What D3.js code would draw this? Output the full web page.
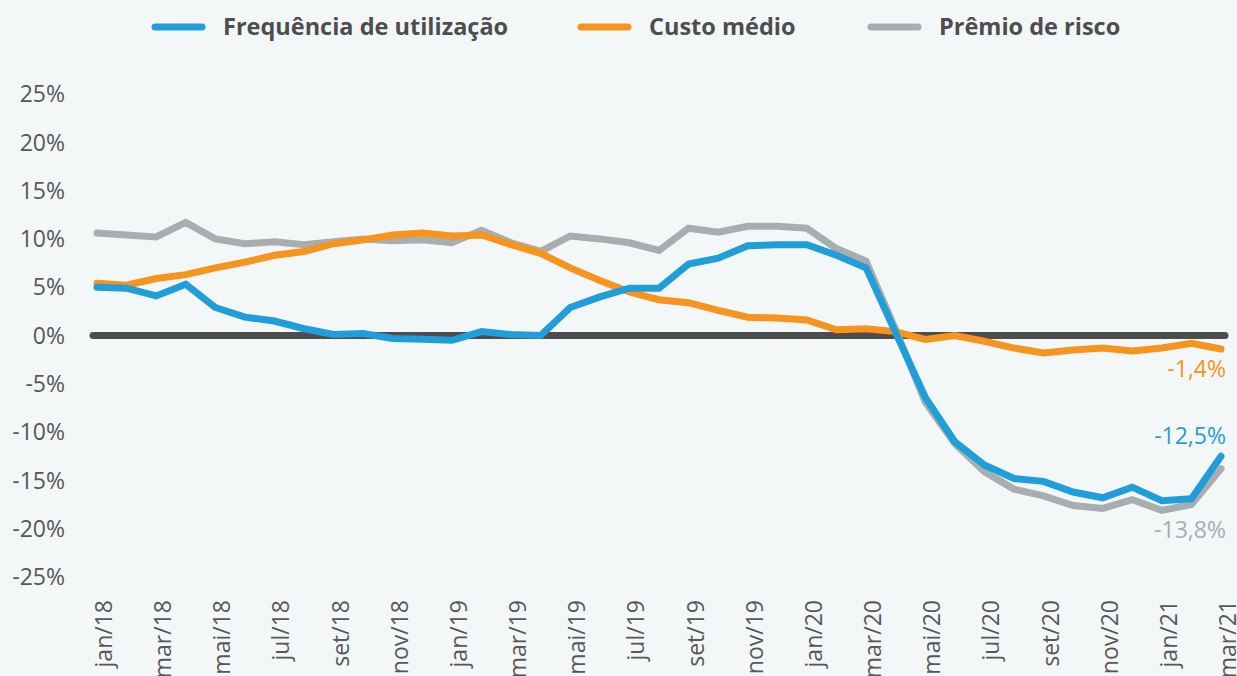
<!DOCTYPE html>
<html>
<head>
<meta charset="utf-8">
<script src="https://cdn.jsdelivr.net/npm/d3@7"></script>
<style>
  body { margin: 0; background: #f3f7f8; }
  svg { display: block; font-family: "Open Sans", sans-serif; }
</style>
</head>
<body>
<svg id="chart"></svg>
<script>
// months jan/18 .. mar/21
const monthNames = ['jan', 'fev', 'mar', 'abr', 'mai', 'jun', 'jul', 'ago', 'set', 'out', 'nov', 'dez'];
const months = d3.range(39).map(i => `${monthNames[i % 12]}/${18 + Math.floor(i / 12)}`);

const frequencia = [5.0, 4.9, 4.1, 5.3, 2.9, 1.9, 1.5, 0.7, 0.1, 0.2, -0.3, -0.4, -0.5, 0.4, 0.1, 0.0,
  2.9, 4.0, 4.9, 4.9, 7.4, 8.0, 9.3, 9.4, 9.4, 8.3, 7.0, 0.3, -6.4, -11.0, -13.4, -14.8, -15.1,
  -16.2, -16.8, -15.7, -17.1, -16.9, -12.5];
const custo = [5.4, 5.2, 5.9, 6.3, 7.0, 7.6, 8.3, 8.7, 9.5, 9.9, 10.4, 10.6, 10.3, 10.4, 9.4, 8.5,
  7.0, 5.7, 4.5, 3.7, 3.4, 2.6, 1.9, 1.8, 1.6, 0.6, 0.7, 0.4, -0.4, 0.0, -0.6, -1.3, -1.8,
  -1.5, -1.3, -1.6, -1.3, -0.8, -1.4];
const premio = [10.6, 10.4, 10.2, 11.7, 10.0, 9.5, 9.7, 9.4, 9.7, 10.0, 9.8, 9.9, 9.6, 10.9, 9.6, 8.7,
  10.3, 10.0, 9.6, 8.8, 11.1, 10.7, 11.3, 11.3, 11.1, 9.0, 7.7, 0.6, -6.9, -11.2, -14.1, -15.9, -16.6,
  -17.6, -17.9, -17.0, -18.1, -17.5, -13.8];

const yTicks = [25, 20, 15, 10, 5, 0, -5, -10, -15, -20, -25];

const series = [
  { name: 'Prêmio de risco', values: premio, color: '#a8adb0', labelDy: 69 },
  { name: 'Custo médio', values: custo, color: '#f7941d', labelDy: 28 },
  { name: 'Frequência de utilização', values: frequencia, color: '#1f9ed9', labelDy: -12 }
];
const legendOrder = [series[2], series[1], series[0]];

const width = 1237, height = 676;
const svg = d3.select('#chart').attr('width', width).attr('height', height);

const x = d3.scaleLinear().domain([0, months.length - 1]).range([97, 1221]);
const y = d3.scaleLinear().domain([-25, 25]).range([577, 94]);

const pct = v => `${String(v).replace('.', ',')}%`; // hyphen minus, comma decimal

// y labels
svg.append('g').selectAll('text')
  .data(yTicks)
  .enter().append('text')
    .attr('x', 65)
    .attr('y', d => y(d))
    .attr('dy', '0.36em')
    .attr('text-anchor', 'end')
    .attr('fill', '#575757')
    .style('font-size', '23px')
    .text(d => pct(d));

// x labels, every 2 months, rotated
svg.append('g').selectAll('text')
  .data(months.filter((m, i) => i % 2 === 0))
  .enter().append('text')
    .attr('transform', (d, i) => `translate(${x(i * 2) + 15},600) rotate(-90)`)
    .attr('text-anchor', 'end')
    .attr('fill', '#575757')
    .style('font-size', '23px')
    .text(d => d);

// zero line
svg.append('line')
  .attr('x1', x(0) - 4).attr('x2', x(months.length - 1) + 4)
  .attr('y1', y(0)).attr('y2', y(0))
  .attr('stroke', '#4d4d4d')
  .attr('stroke-width', 7)
  .attr('stroke-linecap', 'round');

const line = d3.line()
  .x((d, i) => x(i))
  .y(d => y(d));

svg.append('g').selectAll('path')
  .data(series)
  .enter().append('path')
    .attr('d', d => line(d.values))
    .attr('fill', 'none')
    .attr('stroke', d => d.color)
    .attr('stroke-width', 7)
    .attr('stroke-linejoin', 'miter')
    .attr('stroke-linecap', 'round');

// end labels
svg.append('g').selectAll('text')
  .data(series)
  .enter().append('text')
    .attr('x', 1226)
    .attr('y', d => y(d.values[d.values.length - 1]) + d.labelDy)
    .attr('text-anchor', 'end')
    .attr('fill', d => d.color)
    .style('font-size', '23px')
    .text(d => pct(d.values[d.values.length - 1]));

// legend
const legendX = [152, 578, 868];
const legend = svg.append('g').selectAll('g')
  .data(legendOrder)
  .enter().append('g')
    .attr('transform', (d, i) => `translate(${legendX[i]},27)`);

legend.append('line')
  .attr('x1', 3).attr('x2', 50)
  .attr('stroke', d => d.color)
  .attr('stroke-width', 7)
  .attr('stroke-linecap', 'round');

legend.append('text')
  .attr('x', 71)
  .attr('dy', '0.35em')
  .attr('fill', '#4d4d4d')
  .style('font-size', '23.5px')
  .style('font-weight', 700)
  .text(d => d.name);
</script>
</body>
</html>
